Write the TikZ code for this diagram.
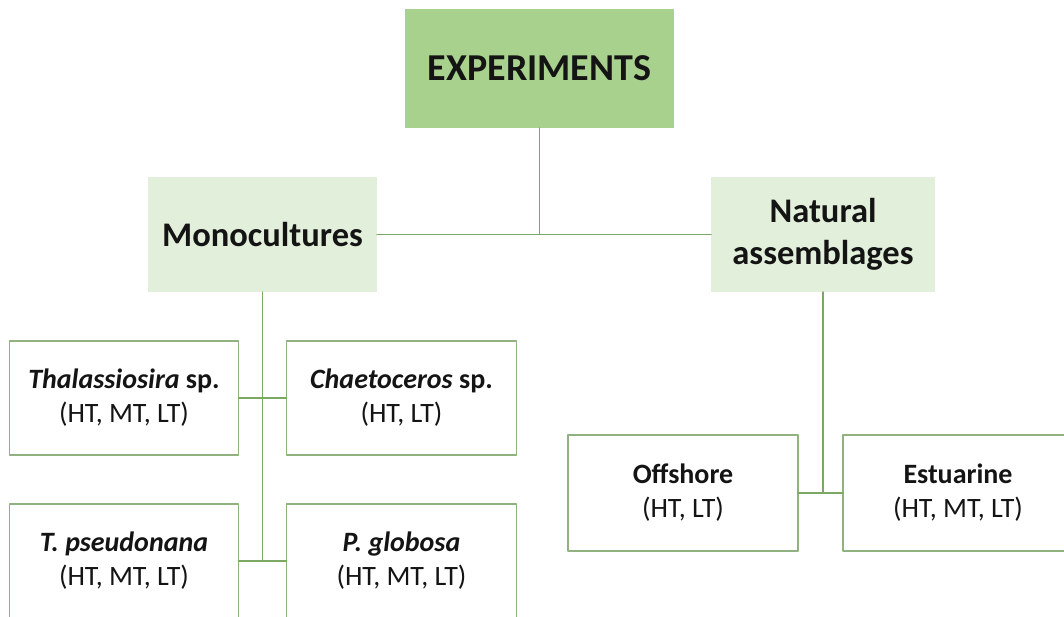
\documentclass[tikz,border=0pt]{standalone}
\usepackage{fontspec}
\setmainfont{Carlito}
\usepackage{xcolor}
\usepackage{tikz}
\usetikzlibrary{positioning}
\definecolor{leafgreen}{HTML}{A9D18E}
\definecolor{palegreen}{HTML}{E2EFDA}
\definecolor{stemgreen}{HTML}{7BA862}
\definecolor{edgegreen}{HTML}{92B181}
\definecolor{ink}{HTML}{141414}
\tikzset{
    every picture/.style={line cap=round,line join=round},
    rootbox/.style={fill=leafgreen,minimum width=269pt,minimum height=119pt,
      inner sep=0pt,outer sep=0pt,text=ink,align=center,
      font=\fontsize{38}{45}\selectfont\bfseries},
    groupbox/.style={fill=palegreen,minimum width=229pt,minimum height=115pt,
      inner sep=0pt,outer sep=0pt,text=ink,align=center,
      font=\fontsize{34.5}{42}\selectfont\bfseries},
    leafbox/.style={draw=edgegreen,fill=white,line width=1.3pt,
      minimum width=229pt,minimum height=114pt,inner sep=0pt,outer sep=0pt,
      text=ink,align=center,font=\fontsize{28}{34}\selectfont},
    link/.style={draw=stemgreen,line width=1.5pt}
}

\begin{document}
\begin{tikzpicture}[x=1pt,y=-1pt]
  \useasboundingbox (0,0) rectangle (1064,616);
  \node[rootbox] (exp) at (539.5,68.5) {EXPERIMENTS};

  \node[groupbox,below left=49pt and 28pt of exp] (mono) {Monocultures};
  \node[groupbox,minimum width=224pt,below right=49pt and 37pt of exp] (nat)
    {Natural\\assemblages};
  \draw[link] (mono.east) -- (nat.west);
  \draw[link] (exp.south) -- (exp.south |- mono.east);

  % monocultures
  \node[leafbox,below left=49pt and 24pt of mono.south] (thal)
    {\textbf{\textit{Thalassiosira} sp.}\\(HT, MT, LT)};
  \node[leafbox,minimum width=230pt,below right=49pt and 24pt of mono.south] (chae)
    {\textbf{\textit{Chaetoceros} sp.}\\(HT, LT)};
  \node[leafbox,below=49pt of thal] (tpse)
    {\textbf{\textit{T. pseudonana}}\\(HT, MT, LT)};
  \node[leafbox,minimum width=230pt,below=49pt of chae] (pglo)
    {\textbf{\textit{P. globosa}}\\(HT, MT, LT)};
  \draw[link] (mono.south) -- (mono.south |- tpse.east);
  \draw[link] (thal.east) -- (chae.west);
  \draw[link] (tpse.east) -- (pglo.west);

  % natural assemblages
  \node[leafbox,minimum width=230pt,minimum height=116pt,
    below left=143pt and 25pt of nat.south] (off)
    {\textbf{Offshore}\\(HT, LT)};
  \node[leafbox,minimum width=230pt,minimum height=116pt,
    below right=143pt and 20pt of nat.south] (est)
    {\textbf{Estuarine}\\(HT, MT, LT)};
  \draw[link] (nat.south) -- (nat.south |- off.east);
  \draw[link] (off.east) -- (est.west);
\end{tikzpicture}
\end{document}
